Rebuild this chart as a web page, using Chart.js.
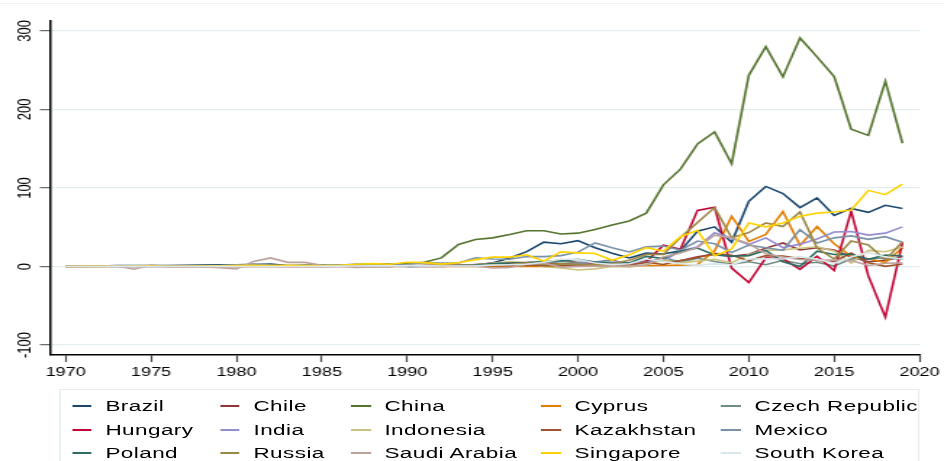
<!DOCTYPE html>
<html>
<head>
<meta charset="utf-8">
<title>FDI net inflows, 1970-2019</title>
<script src="https://cdn.jsdelivr.net/npm/chart.js@4/dist/chart.umd.min.js"></script>
<style>
  html, body { margin: 0; padding: 0; background: #fff; overflow: hidden; }
  body { width: 944px; height: 461px; position: relative; }
  #topRule { position: absolute; left: 0; top: 3px; width: 944px; height: 1px; background: #eef3f5; }
  #stage { position: absolute; left: 0; top: 0; width: 651px; height: 461px;
           transform: scaleX(1.4501); transform-origin: 0 0; }
  #c { display: block; width: 651px; height: 461px; }
  #legend { position: absolute; left: 40.7px; top: 389px; width: 593px; height: 90px;
            border: 1px solid #e4ecef; box-sizing: border-box; }
  .item { position: absolute; height: 20px; white-space: nowrap;
          font: 15.5px "Liberation Sans", Arial, sans-serif; letter-spacing: 0.3px; color: #000; }
  .item .key { position: absolute; top: 9px; width: 13.5px; height: 2px; }
  .item .txt { position: absolute; top: 0; line-height: 20px; }
</style>
</head>
<body>
<div id="topRule"></div>
<div id="stage">
  <canvas id="c" width="651" height="461"></canvas>
  <div id="legend"></div>
</div>
<script>
// Years on the horizontal axis
const years = [1970,1971,1972,1973,1974,1975,1976,1977,1978,1979,
               1980,1981,1982,1983,1984,1985,1986,1987,1988,1989,
               1990,1991,1992,1993,1994,1995,1996,1997,1998,1999,
               2000,2001,2002,2003,2004,2005,2006,2007,2008,2009,
               2010,2011,2012,2013,2014,2015,2016,2017,2018,2019];

// Country names, in legend order
const countries = ["Brazil","Chile","China","Cyprus","Czech Republic",
                   "Hungary","India","Indonesia","Kazakhstan","Mexico",
                   "Poland","Russia","Saudi Arabia","Singapore","South Korea"];

// Tick labels
const xTicks = [1970,1975,1980,1985,1990,1995,2000,2005,2010,2015,2020];
const yTicks = [-100,0,100,200,300];

// FDI net inflows per year, 1970-2019 (null = no observation)
const brazil = [0.4,0.4,0.5,1.2,1.2,1.2,1.2,1.6,1.9,2.2,
  1.9,2.5,3.1,1.3,1.5,1.4,0.3,1.2,2.8,1.3,
  1.0,1.1,2.1,1.3,2.2,4.4,10.8,19.0,31.0,29.0,
  33.0,24.0,17.0,11.0,17.0,16.0,20.0,45.0,50.5,31.0,
  83.0,102.0,93.0,75.0,87.5,65.0,74.0,69.0,78.0,74.0];
const chile = [-0.1,-0.1,0,0,0,0.1,0,0,0.2,0.2,
  0.2,0.4,0.4,0.1,0.1,0.1,0.3,0.9,1.0,1.3,
  0.7,0.8,0.9,1.0,2.6,3.0,4.6,5.2,4.6,8.8,
  4.9,4.2,2.6,4.3,7.2,7.0,7.3,12.5,15.5,12.9,
  15.7,23.4,30.0,21.0,23.8,20.9,12.2,6.1,7.8,12.9];
const china = [null,null,null,null,null,null,null,null,null,null,
  null,null,0.4,0.6,1.3,1.7,1.9,2.3,3.2,3.4,
  3.5,5.5,11.0,28.0,34.4,36.5,40.8,45.5,45.5,41.5,
  42.5,47.0,53.0,58.0,68.0,104.0,124.0,156.0,171.5,131.0,
  243.5,280.0,241.5,291.0,267.0,242.0,175.0,167.0,236.0,157.0];
const cyprus = [null,null,null,null,null,null,0.02,0.03,0.04,0.05,
  0.05,0.06,0.06,0.06,0.06,0.06,0.05,0.06,0.06,0.07,
  0.13,0.08,0.1,0.1,0.1,0.1,0.1,0.1,0.1,0.1,
  0.8,0.9,1.0,1.1,1.1,1.2,1.8,2.5,20.0,64.0,
  32.0,41.0,70.0,27.0,51.0,29.0,13.0,10.0,5.0,24.0];
const czechRepublic = [null,null,null,null,null,null,null,null,null,null,
  null,null,null,null,null,null,null,null,null,null,
  null,null,null,0.65,0.87,2.6,1.4,1.3,3.7,6.3,
  5.0,5.6,8.5,2.1,5.0,11.7,5.5,10.4,6.5,2.9,
  6.1,2.3,8.0,3.6,5.5,0.5,9.8,9.5,11.0,9.4];
const hungary = [null,null,null,null,null,null,null,null,null,null,
  null,null,null,null,null,null,null,null,null,null,
  0.3,1.5,1.5,2.4,1.1,4.8,3.3,4.2,3.3,3.3,
  2.8,3.9,3.0,2.2,6.0,27.0,22.0,71.5,75.5,-2.0,
  -20.5,11.0,10.0,-3.5,13.0,-5.0,70.5,-12.0,-64.5,30.5];
const india = [0.05,0.05,0.03,0.04,0.06,0.1,0.03,0.02,0.03,0.05,
  0.08,0.09,0.07,0.01,0.02,0.1,0.12,0.21,0.09,0.25,
  0.24,0.07,0.28,0.55,0.97,2.1,2.4,3.6,2.6,2.2,
  3.6,5.5,5.6,4.3,5.8,7.3,20.0,25.0,43.0,36.0,
  28.0,36.5,24.0,28.5,35.0,44.0,44.5,40.0,42.5,50.5];
const indonesia = [0.08,0.14,0.21,0.21,0.07,0.48,0.34,0.24,0.28,0.23,
  0.18,0.13,0.23,0.29,0.22,0.31,0.26,0.39,0.58,0.68,
  1.1,1.5,1.8,2.0,2.1,4.3,6.2,4.7,-0.2,-1.9,
  -4.5,-3.0,0.15,-0.6,1.9,8.3,4.9,6.9,9.3,4.9,
  15.3,20.6,21.2,23.3,25.1,19.8,4.5,20.6,18.9,24.9];
const kazakhstan = [null,null,null,null,null,null,null,null,null,null,
  null,null,null,null,null,null,null,null,null,null,
  null,null,0.1,1.27,0.66,0.96,1.14,2.1,1.15,1.47,
  1.28,2.86,2.16,2.21,5.4,2.55,7.6,11.1,16.8,14.3,
  7.5,13.8,13.3,10.2,7.6,6.6,17.2,4.7,0.2,3.1];
const mexico = [0.32,0.31,0.30,0.46,0.68,0.61,0.63,0.56,0.82,1.3,
  2.1,3.1,1.9,0.46,0.39,0.49,1.5,3.2,2.6,3.2,
  2.6,4.7,4.4,4.4,11.0,9.5,9.2,12.8,12.6,13.9,
  18.3,30.0,24.0,18.5,25.0,26.0,21.0,32.4,29.0,17.9,
  27.2,23.8,20.7,47.0,30.0,36.5,39.0,34.6,38.0,31.0];
const poland = [null,null,null,null,null,null,null,null,null,null,
  null,null,null,null,null,null,null,null,null,null,
  0.09,0.29,0.68,1.7,1.9,3.7,4.5,4.9,6.4,7.3,
  9.3,5.7,4.1,4.6,12.9,10.3,19.6,23.6,14.8,13.0,
  13.9,20.6,6.1,0.0,19.5,15.3,15.7,9.2,14.7,13.2];
const russia = [null,null,null,null,null,null,null,null,null,null,
  null,null,null,null,null,null,null,null,null,null,
  null,null,1.2,1.2,0.69,2.07,2.58,4.86,2.76,3.31,
  2.71,2.75,3.46,7.96,15.4,15.5,37.0,56.0,75.0,36.6,
  43.2,55.5,51.0,69.5,23.5,9.5,32.5,27.5,8.5,31.5];
const saudiArabia = [0.0,0.1,0.2,0.6,-3.5,1.9,-0.5,0.5,-0.3,-1.4,
  -3.2,6.5,11.0,5.3,5.3,1.5,1.0,-1.2,-0.3,-0.6,
  1.9,0.16,-0.08,1.37,0.35,-1.88,-1.13,3.0,4.3,-0.78,
  0.18,0.5,0.45,0.78,1.94,12.1,17.1,24.3,40.0,36.5,
  29.2,16.3,12.2,8.9,8.0,8.1,7.5,1.4,4.2,4.6];
const singapore = [0.09,0.12,0.19,0.39,0.6,0.61,0.33,0.34,0.7,0.84,
  1.24,1.68,1.3,1.4,1.3,1.05,1.7,2.8,3.7,2.9,
  5.5,5.0,3.0,4.7,8.8,11.9,12.0,15.0,6.8,18.6,
  17.4,16.5,8.0,15.0,24.0,19.5,38.0,46.0,13.5,22.5,
  55.5,50.5,55.5,64.0,68.0,69.5,72.0,97.0,91.5,105.0];
const southKorea = [0.07,0.06,0.07,0.16,0.16,0.05,0.08,0.1,0.1,0.13,
  0.01,0.1,0.07,0.07,0.11,0.23,0.46,0.62,0.87,0.76,
  0.79,1.18,0.73,0.59,0.81,1.78,2.33,2.84,5.41,9.33,
  9.28,4.5,2.4,3.5,9.5,6.3,3.6,1.8,3.3,2.2,
  9.5,9.8,9.5,12.8,9.3,4.1,12.1,17.9,12.2,9.6];

const seriesValues = [brazil, chile, china, cyprus, czechRepublic,
  hungary, india, indonesia, kazakhstan, mexico,
  poland, russia, saudiArabia, singapore, southKorea];

// s2color-style palette
const palette = ["#1a476f","#90353b","#55752f","#e37e00","#6e8e84",
                 "#c10534","#938dd2","#cac27e","#a0522d","#7b92a8",
                 "#2d6d66","#9c8847","#bfa19c","#ffd200","#d9e6eb"];

const FONT = '"Liberation Sans", Arial, Helvetica, sans-serif';

const datasets = countries.map((name, i) => ({
  label: name,
  data: seriesValues[i].map((v, k) => ({ x: years[k], y: v })),
  borderColor: palette[i],
  backgroundColor: palette[i],
  borderWidth: 1.6,
  pointRadius: 0,
  pointHoverRadius: 0,
  tension: 0,
  fill: false,
  spanGaps: false,
  order: countries.length - 1 - i   // later series drawn on top
}));

// Rotated value labels on the vertical axis
const yLabelPlugin = {
  id: 'yLabels',
  afterDraw(chart) {
    const { ctx } = chart;
    const y = chart.scales.y;
    ctx.save();
    ctx.font = '13px ' + FONT;
    ctx.fillStyle = '#000';
    ctx.textAlign = 'center';
    ctx.textBaseline = 'middle';
    y.ticks.forEach(t => {
      const py = y.getPixelForValue(t.value);
      ctx.save();
      ctx.translate(17.8, py);
      ctx.rotate(-Math.PI / 2);
      ctx.fillText(String(t.value), 0, 0);
      ctx.restore();
    });
    ctx.restore();
  }
};

const chart = new Chart(document.getElementById('c'), {
  type: 'line',
  data: { datasets },
  options: {
    responsive: false,
    animation: false,
    devicePixelRatio: 1,
    layout: { padding: { top: 21, right: 14.5, bottom: 0, left: 0 } },
    plugins: { legend: { display: false }, tooltip: { enabled: false } },
    scales: {
      x: {
        type: 'linear',
        min: 1969.084,
        max: 2020,
        afterBuildTicks: s => { s.ticks = xTicks.map(v => ({ value: v })); },
        afterFit: s => { s.height = 106; },
        grid: { drawOnChartArea: false, drawTicks: true, tickLength: 7, tickColor: '#444', tickWidth: 1.2 },
        border: { display: true, color: '#000', width: 1.5 },
        ticks: { color: '#000', font: { family: FONT, size: 12.5 }, padding: 3,
                 maxRotation: 0, minRotation: 0, autoSkip: false,
                 callback: v => String(v) }
      },
      y: {
        type: 'linear',
        min: -112.7,
        max: 312.7,
        afterBuildTicks: s => { s.ticks = yTicks.map(v => ({ value: v })); },
        afterFit: s => { s.width = 34.5; },
        grid: { drawOnChartArea: true, color: '#e4edf0', lineWidth: 1.3,
                drawTicks: true, tickLength: 7, tickColor: '#666', tickWidth: 1.2 },
        border: { display: true, color: '#000', width: 1.5 },
        ticks: { display: false }
      }
    }
  },
  plugins: [yLabelPlugin]
});

// Legend laid out in five columns, three rows
const legendCols = [71.7, 173.8, 264.1, 395.2, 519.3];
const legendRows = [405, 429, 452];
const legendBox = document.getElementById('legend');
chart.data.datasets.forEach((ds, i) => {
  const col = i % 5, row = Math.floor(i / 5);
  const item = document.createElement('div');
  item.className = 'item';
  item.style.left = (legendCols[col] - 40.7 - 23) + 'px';
  item.style.top = (legendRows[row] - 389 - 10) + 'px';
  const key = document.createElement('span');
  key.className = 'key';
  key.style.left = '0px';
  key.style.background = ds.borderColor;
  const txt = document.createElement('span');
  txt.className = 'txt';
  txt.style.left = '23px';
  txt.textContent = ds.label;
  item.appendChild(key);
  item.appendChild(txt);
  legendBox.appendChild(item);
});
</script>
</body>
</html>
